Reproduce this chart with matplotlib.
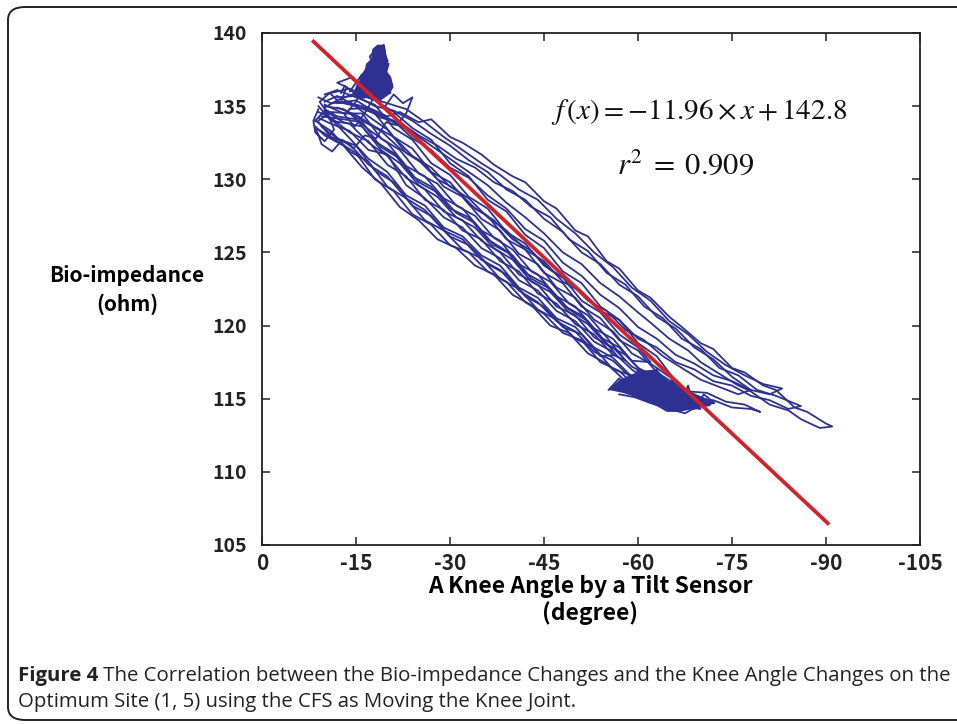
import matplotlib
matplotlib.use("Agg")
import matplotlib.pyplot as plt
from matplotlib import font_manager
from matplotlib.patches import FancyBboxPatch

# --- values ---
x_ticks = [0, -15, -30, -45, -60, -75, -90, -105]
x_tick_labels = ["0", "-15", "-30", "-45", "-60", "-75", "-90", "-105"]
y_ticks = [105, 110, 115, 120, 125, 130, 135, 140]
y_tick_labels = ["105", "110", "115", "120", "125", "130", "135", "140"]

# least squares line f(x) = -11.96*x + 142.8, end points as drawn
fit_x = [-8.0, -90.5]
fit_y = [139.5, 106.4]

# measured traces (knee angle in degree, impedance in ohm)
loop1 = [(-9, 133.4), (-12, 132.6), (-15, 131.8), (-18, 130.0), (-21, 129.2), (-24, 127.6),
         (-27, 126.9), (-30, 125.5), (-33, 125.0), (-36, 123.7), (-39, 123.0), (-42, 121.6),
         (-45, 120.8), (-48, 119.5), (-51, 119.0), (-54, 117.5), (-57, 116.9), (-60, 115.7),
         (-63, 115.3), (-66, 114.5), (-70, 114.3), (-68, 114.9), (-65, 115.4), (-62, 116.1),
         (-59, 117.0), (-56, 118.2), (-53, 118.9), (-50, 120.3), (-47, 121.0), (-44, 122.4),
         (-41, 123.1), (-38, 124.6), (-35, 125.3), (-32, 126.7), (-29, 127.4), (-26, 128.7),
         (-23, 129.6), (-20, 131.7), (-17, 132.0), (-14, 133.3), (-11, 133.8), (-9, 134.2)]
loop2 = [(-10, 134.6), (-14, 132.8), (-17, 131.4), (-20, 130.5), (-23, 128.9), (-26, 128.2),
         (-29, 126.7), (-32, 126.1), (-35, 124.8), (-38, 124.1), (-41, 122.6), (-44, 121.9),
         (-47, 120.5), (-50, 119.9), (-53, 118.5), (-56, 117.8), (-59, 116.5), (-62, 116.0),
         (-66, 115.3), (-63, 116.5), (-60, 117.1), (-57, 118.5), (-54, 119.2), (-51, 120.7),
         (-48, 121.4), (-45, 122.9), (-42, 123.6), (-39, 125.1), (-36, 125.9), (-33, 127.4),
         (-30, 128.0), (-27, 129.5), (-24, 130.2), (-21, 131.8), (-18, 132.6), (-15, 134.1),
         (-12, 134.3), (-10, 134.8)]
loop3 = [(-9, 135.0), (-11, 134.0), (-14, 133.8), (-17, 132.5), (-20, 131.6), (-23, 130.1),
         (-26, 129.3), (-29, 127.8), (-32, 127.2), (-35, 125.8), (-38, 125.0), (-41, 123.5),
         (-44, 122.8), (-47, 121.3), (-50, 120.7), (-53, 119.2), (-56, 118.5), (-59, 117.2),
         (-62, 116.5), (-65, 115.4), (-68, 115.0), (-72, 114.8), (-69, 115.2), (-66, 116.0),
         (-63, 116.8), (-60, 118.3), (-57, 119.0), (-54, 120.5), (-51, 121.3), (-48, 122.9),
         (-45, 123.6), (-42, 125.2), (-39, 125.9), (-36, 127.5), (-33, 128.3), (-30, 129.8),
         (-27, 130.5), (-24, 132.1), (-21, 132.9), (-18, 134.5), (-15, 135.0), (-12, 135.7),
         (-10, 135.3)]
loop4 = [(-8.5, 133.6), (-10, 133.0), (-13, 132.3), (-16, 130.8), (-19, 129.7), (-22, 128.1),
         (-25, 127.2), (-28, 125.9), (-31, 125.3), (-34, 124.1), (-37, 123.5), (-40, 122.1),
         (-43, 121.4), (-46, 120.0), (-49, 119.5), (-52, 118.1), (-55, 117.4), (-58, 116.2),
         (-61, 115.8), (-64, 114.7), (-62, 115.5), (-59, 116.4), (-56, 117.6), (-53, 118.2),
         (-50, 119.6), (-47, 120.3), (-44, 121.6), (-41, 122.4), (-38, 123.8), (-35, 124.5),
         (-32, 125.9), (-29, 126.5), (-26, 127.9), (-23, 128.7), (-20, 130.2), (-17, 131.0),
         (-14, 132.4), (-11, 132.9), (-9, 133.9)]
loop5 = [(-10, 135.1), (-13, 134.5), (-16, 134.5), (-19, 132.8), (-22, 132.0), (-25, 130.4),
         (-28, 129.7), (-31, 128.2), (-34, 127.5), (-37, 126.0), (-40, 125.2), (-43, 123.7),
         (-46, 123.0), (-49, 121.5), (-52, 120.7), (-55, 119.2), (-58, 117.6), (-56, 118.0),
         (-53, 119.4), (-50, 120.1), (-47, 121.5), (-44, 122.2), (-41, 123.7), (-38, 124.4),
         (-35, 125.9), (-32, 126.5), (-29, 127.9), (-26, 128.6), (-23, 130.2), (-20, 131.0),
         (-17, 132.6), (-14, 133.2), (-11, 134.2), (-9, 134.6)]
loop6 = [(-10, 135.8), (-12, 136.1), (-15, 135.6), (-18, 135.1), (-21, 133.5), (-24, 132.7),
         (-27, 131.1), (-30, 130.3), (-33, 128.8), (-36, 128.0), (-39, 126.4), (-42, 125.6),
         (-45, 124.1), (-48, 123.3), (-51, 121.7), (-54, 120.9), (-57, 119.4), (-60, 118.5),
         (-62, 117.5), (-59, 117.6), (-56, 119.1), (-53, 119.8), (-50, 121.3), (-47, 122.0),
         (-44, 123.5), (-41, 124.2), (-38, 125.8), (-35, 126.5), (-32, 128.0), (-29, 128.7),
         (-26, 130.2), (-23, 130.9), (-20, 132.5), (-17, 133.4), (-14, 134.5), (-11, 134.6),
         (-9, 134.0)]
loop7 = [(-9, 135.6), (-11, 135.2), (-14, 135.3), (-17, 134.3), (-20, 133.4), (-23, 131.8),
         (-26, 131.0), (-29, 129.5), (-32, 128.8), (-35, 127.3), (-38, 126.5), (-41, 124.9),
         (-44, 124.2), (-47, 122.6), (-50, 121.9), (-53, 120.4), (-56, 119.6), (-59, 118.1),
         (-62, 117.4), (-66, 116.2), (-63, 117.9), (-60, 118.8), (-57, 120.4), (-54, 121.3),
         (-51, 122.9), (-48, 123.7), (-45, 125.3), (-42, 126.2), (-39, 127.8), (-36, 128.6),
         (-33, 130.2), (-30, 131.1), (-27, 132.7), (-24, 133.5), (-21, 134.6), (-18, 135.4),
         (-15, 135.9), (-12, 135.4), (-10, 134.9)]
loop8 = [(-9.5, 134.3), (-13, 134.1), (-16, 133.9), (-19, 132.2), (-22, 131.4), (-25, 129.8),
         (-28, 129.1), (-31, 127.7), (-34, 127.0), (-37, 125.5), (-40, 124.8), (-43, 123.2),
         (-46, 122.5), (-49, 121.1), (-52, 120.3), (-55, 118.8), (-56.5, 118.0), (-54, 117.9),
         (-51, 119.4), (-48, 119.9), (-45, 121.3), (-42, 122.0), (-39, 123.5), (-36, 124.2),
         (-33, 125.5), (-30, 126.1), (-27, 127.5), (-24, 128.2), (-21, 129.8), (-18, 130.6),
         (-15, 132.3), (-12, 132.8), (-9.5, 133.6)]
loop9 = [(-8.5, 134.0), (-11, 133.3), (-14, 131.9), (-17, 131.2), (-20, 129.5), (-23, 128.7),
         (-26, 127.2), (-29, 126.5), (-32, 125.2), (-35, 124.6), (-38, 123.2), (-41, 122.5),
         (-44, 121.1), (-47, 120.4), (-50, 119.1), (-53, 118.5), (-56, 117.0), (-59, 116.6),
         (-62, 115.3), (-65, 115.0), (-67, 114.6), (-64, 116.2), (-61, 116.7), (-58, 118.0),
         (-55, 118.7), (-52, 120.1), (-49, 120.9), (-46, 122.3), (-43, 123.0), (-40, 124.5),
         (-37, 125.3), (-34, 126.7), (-31, 127.4), (-28, 128.8), (-25, 129.6), (-22, 131.1),
         (-19, 132.0), (-16, 133.6), (-13, 133.9), (-10, 134.7), (-8.5, 134.0)]
upper_a = [(-14, 134.8), (-17, 134.9), (-20, 134.3), (-22, 134.6), (-25, 133.9), (-27, 134.1),
           (-30, 132.9), (-32, 132.5), (-35, 131.7), (-37, 131.0), (-40, 130.2), (-42, 129.8),
           (-45, 128.5), (-47, 128.0), (-50, 126.5), (-52, 126.1), (-55, 124.4), (-57, 123.9),
           (-60, 122.4), (-62, 121.9), (-65, 120.6), (-67, 119.9), (-70, 118.8), (-72, 118.4),
           (-75, 117.1), (-77, 116.8), (-80, 115.9), (-82, 115.6), (-85, 114.4), (-87, 114.1),
           (-90, 113.3), (-91, 113.1), (-89, 113.0), (-86, 113.6), (-84, 114.2), (-81, 114.6),
           (-78, 115.5), (-76, 115.9), (-73, 116.7), (-70, 117.5), (-68, 118.3), (-65, 119.1),
           (-62, 120.2), (-60, 120.9), (-57, 122.0), (-54, 122.9), (-51, 124.2), (-48, 125.0),
           (-45, 126.3), (-42, 127.4), (-39, 128.4), (-36, 129.6), (-33, 130.5), (-30, 131.4),
           (-27, 132.3), (-24, 133.2), (-21, 133.9), (-18, 134.5), (-15, 135.0), (-12, 135.3)]
upper_b = [(-11, 135.9), (-14, 136.2), (-17, 135.6), (-20, 135.2), (-23, 134.8), (-26, 133.9),
           (-29, 132.9), (-32, 132.0), (-35, 131.1), (-38, 130.3), (-41, 129.3), (-44, 128.6),
           (-47, 127.3), (-50, 126.3), (-53, 125.0), (-56, 124.0), (-59, 122.6), (-62, 121.7),
           (-65, 120.3), (-68, 119.4), (-71, 118.2), (-74, 117.3), (-77, 116.6), (-80, 116.0),
           (-83, 115.7), (-81, 115.3), (-78, 115.6), (-75, 116.2), (-72, 116.6), (-69, 117.4),
           (-66, 118.0), (-63, 119.1), (-60, 119.9), (-57, 121.2), (-54, 122.1), (-51, 123.4),
           (-48, 124.3), (-45, 125.8), (-42, 126.6), (-39, 128.0), (-36, 128.9), (-33, 130.1),
           (-30, 130.8), (-27, 132.0), (-24, 132.8), (-21, 134.0), (-18, 134.6), (-15, 135.4),
           (-12, 135.2)]
upper_c = [(-13, 135.3), (-16, 135.0), (-19, 134.2), (-22, 133.9), (-25, 133.0), (-28, 132.3),
           (-31, 131.4), (-34, 130.8), (-37, 129.8), (-40, 129.2), (-43, 128.1), (-46, 127.4),
           (-49, 125.9), (-52, 125.1), (-55, 123.6), (-58, 122.8), (-61, 121.3), (-64, 120.5),
           (-67, 119.1), (-70, 118.4), (-73, 117.1), (-76, 116.6), (-79, 115.6), (-82, 115.2),
           (-86, 114.5), (-84, 114.3), (-81, 114.9), (-78, 115.2), (-75, 115.9), (-72, 116.2),
           (-69, 117.0), (-66, 117.5), (-63, 118.5), (-60, 119.1), (-57, 120.4), (-54, 121.0),
           (-51, 122.3), (-48, 123.0), (-45, 124.4), (-42, 125.2), (-39, 126.5), (-36, 127.4),
           (-33, 128.7), (-30, 129.5), (-27, 130.8), (-24, 131.6), (-21, 132.9), (-18, 133.6),
           (-15, 134.4), (-12, 134.9)]
upper_d = [(-12, 135.6), (-15, 135.7), (-18, 135.0), (-21, 134.7), (-24, 134.0), (-27, 133.1),
           (-30, 132.3), (-33, 131.3), (-36, 130.5), (-39, 129.3), (-42, 128.6), (-45, 127.3),
           (-48, 126.4), (-51, 125.0), (-54, 124.2), (-57, 122.8), (-60, 122.0), (-63, 120.6),
           (-66, 119.8), (-69, 118.5), (-72, 117.7), (-75, 116.5), (-78, 115.6), (-76, 115.3),
           (-73, 115.8), (-70, 116.3), (-67, 117.1), (-64, 117.9), (-61, 119.0), (-58, 119.7),
           (-55, 121.0), (-52, 121.7), (-49, 123.0), (-46, 123.8), (-43, 125.1), (-40, 125.9),
           (-37, 127.2), (-34, 128.0), (-31, 129.3), (-28, 130.0), (-25, 131.3), (-22, 132.1),
           (-19, 133.3), (-16, 134.0), (-13, 134.8), (-10, 135.0)]
blob_tail = [(-66, 115.6), (-69, 115.0), (-72, 114.9), (-75, 114.4), (-78, 114.3), (-79.5, 114.1),
             (-77, 114.6), (-74, 114.8), (-71, 115.4), (-68, 115.5)]
cluster = [(-9, 134.8), (-8.2, 134.0), (-8.5, 133.2), (-10, 132.6), (-11.5, 133.4), (-10.5, 134.5),
           (-9.2, 135.3), (-10.8, 135.9), (-12.5, 135.2), (-13.5, 136.3), (-12, 136.6), (-14.5, 137.0),
           (-16, 136.2), (-15, 135.3), (-13.2, 134.4), (-14.8, 133.6), (-16.5, 134.6), (-18, 135.7),
           (-19.5, 134.9), (-21, 135.8), (-22.5, 135.2), (-24, 135.6), (-23, 134.5), (-21.5, 133.7),
           (-19.8, 133.9), (-18.2, 132.8), (-16.4, 133.0), (-14.6, 132.1), (-12.8, 132.7),
           (-11.2, 131.9), (-9.5, 132.4), (-8.6, 133.5)]
blob_top_scribble = [(-14, 136.0), (-16, 137.2), (-15.2, 136.1), (-17, 137.8), (-15.8, 137.0),
                     (-16.5, 136.0), (-18, 137.5), (-17.2, 138.4), (-18.4, 139.0), (-18.8, 138.0),
                     (-19.4, 139.2), (-19.8, 138.3), (-19.0, 137.6), (-20.2, 137.9), (-19.5, 136.8),
                     (-20.8, 136.5), (-19.2, 136.2), (-18.5, 136.9), (-17.6, 136.0), (-16.8, 136.8),
                     (-18.2, 138.2), (-17.8, 137.0), (-19.6, 137.3), (-20.5, 135.9), (-18.8, 135.8),
                     (-17.0, 135.6), (-15.0, 135.8), (-13.2, 136.4), (-12.6, 135.9)]
blob_top_core = [(-14.5, 135.8), (-15.2, 136.6), (-16.2, 137.0), (-16.6, 137.9), (-17.4, 138.2),
                 (-17.6, 138.9), (-18.4, 139.2), (-19.6, 139.2), (-19.8, 138.5), (-20.2, 138.1),
                 (-19.9, 137.4), (-20.6, 137.0), (-21.0, 136.3), (-20.3, 135.8), (-19.0, 135.4),
                 (-17.5, 135.6), (-16.0, 135.5)]
blob_bottom_core = [(-55.3, 115.6), (-57.1, 116.3), (-60.3, 116.9), (-63.0, 117.0), (-64.6, 116.3),
                    (-66.7, 115.8), (-68.8, 115.4), (-70.4, 115.1), (-72.0, 114.8), (-71.5, 114.5),
                    (-68.8, 114.3), (-66.7, 114.1), (-64.6, 114.1), (-63.0, 114.5), (-60.3, 115.0),
                    (-57.6, 115.4)]
blob_bottom_scribble = [(-55.3, 115.6), (-57, 116.4), (-58.5, 115.4), (-60, 117.0), (-61.5, 115.2),
                        (-63, 117.1), (-64, 114.6), (-65.5, 116.4), (-66.5, 114.2), (-68, 115.9),
                        (-69, 114.3), (-70.5, 115.3), (-72.2, 114.7), (-70, 114.6), (-67.5, 114.0),
                        (-65, 114.3), (-62, 114.7), (-59.5, 115.1), (-57, 115.3)]

traces = [loop1, loop2, loop3, loop4, loop5, loop6, loop7, loop8, loop9,
          upper_a, upper_b, upper_c, upper_d, blob_tail, cluster,
          blob_top_scribble, blob_bottom_scribble]

BLUE = "#2e3192"
RED = "#d2232a"

names = {f.name for f in font_manager.fontManager.ttflist}
AX_FONT = "DejaVu Sans"
for cand in ["Noto Sans CJK KR", "Noto Sans CJK JP", "Noto Sans CJK SC", "Noto Sans CJK TC"]:
    if cand in names:
        AX_FONT = cand
        break
CAP_FONT = "Open Sans" if "Open Sans" in names else "DejaVu Sans"
plt.rcParams["mathtext.fontset"] = "stix"

W, H = 957, 724
fig = plt.figure(figsize=(W / 100, H / 100), dpi=100)

# rounded frame around the whole figure (right side runs off the page)
frame = FancyBboxPatch((8 / W, 4 / H), 1.2, (H - 11) / H,
                       boxstyle="round,pad=0,rounding_size=0.018",
                       transform=fig.transFigure, fill=False,
                       edgecolor="#222222", linewidth=1.4, clip_on=False)
fig.patches.append(frame)

ax = fig.add_axes([262 / W, 179 / H, 658 / W, 512 / H])

for tr in traces:
    xs, ys = zip(*tr)
    ax.plot(xs, ys, color=BLUE, lw=1.3, zorder=2)

for core in (blob_top_core, blob_bottom_core):
    xs, ys = zip(*core)
    ax.fill(xs, ys, color=BLUE, lw=0, zorder=2)

ax.plot(fit_x, fit_y, color=RED, lw=2.7, zorder=3, solid_capstyle="butt")

ax.set_xlim(0, -105)
ax.set_ylim(105, 140)
ax.set_xticks(x_ticks)
ax.set_xticklabels(x_tick_labels, fontfamily=AX_FONT, fontsize=15, fontweight="bold")
ax.set_yticks(y_ticks)
ax.set_yticklabels(y_tick_labels, fontfamily=AX_FONT, fontsize=14, fontweight="bold")
ax.tick_params(direction="in", length=6, width=1.1, top=True, right=True, colors="#222222")
ax.tick_params(axis="x", pad=6)
ax.tick_params(axis="y", pad=11)
for s in ax.spines.values():
    s.set_linewidth(1.3)
    s.set_color("#222222")

ax.text(0.664, 0.846, r"$f\,(x)=-11.96\times x+142.8$", transform=ax.transAxes,
        ha="center", va="center", fontsize=21, color="#111111")
ax.text(0.644, 0.742, r"$r^2\;=\;0.909$", transform=ax.transAxes,
        ha="center", va="center", fontsize=22, color="#111111")

fig.text(127 / W, 1 - 290 / H, "Bio-impedance\n(ohm)", ha="center", va="center",
         fontfamily=AX_FONT, fontsize=15, fontweight="bold", linespacing=1.4)
fig.text(590 / W, 1 - 600 / H, "A Knee Angle by a Tilt Sensor\n(degree)", ha="center",
         va="center", fontfamily=AX_FONT, fontsize=16.5, fontweight="bold", linespacing=1.15)

# caption: bold lead-in followed by regular text, sized to the original line width
fig.canvas.draw()
rend = fig.canvas.get_renderer()
cap_size = 13.5
lead = fig.text(18 / W, 1 - 676 / H, "Figure 4", ha="left", va="center",
                fontfamily=CAP_FONT, fontweight="bold", fontsize=cap_size, color="#222222")
rest = fig.text(0, 1 - 676 / H, " The Correlation between the Bio-impedance Changes and the "
                "Knee Angle Changes on the", ha="left", va="center",
                fontfamily=CAP_FONT, fontsize=cap_size, color="#222222")
w_lead = lead.get_window_extent(rend).width
w_rest = rest.get_window_extent(rend).width
cap_size = cap_size * (950 - 18) / (w_lead + w_rest)
lead.set_fontsize(cap_size)
rest.set_fontsize(cap_size)
x_rest = 18 + lead.get_window_extent(rend).width
rest.set_x(x_rest / W)
fig.text(18 / W, 1 - 702 / H, "Optimum Site (1, 5) using the CFS as Moving the Knee Joint.",
         ha="left", va="center", fontfamily=CAP_FONT, fontsize=cap_size, color="#222222")

fig.savefig("out.png", dpi=100)
